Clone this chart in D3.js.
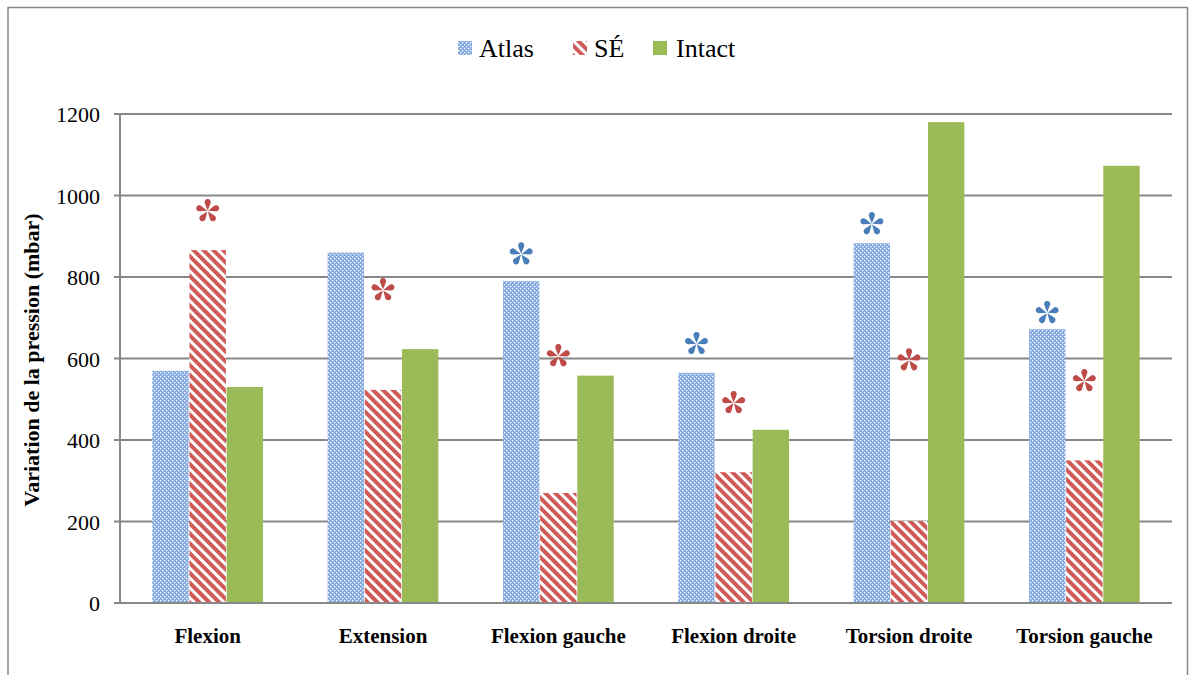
<!DOCTYPE html>
<html>
<head>
<meta charset="utf-8">
<script src="https://cdn.jsdelivr.net/npm/d3@7"></script>
<style>
  body { margin: 0; background: #fff; }
  svg { display: block; }
</style>
</head>
<body>
<svg id="chart" width="1189" height="675"></svg>
<script>
const categories = ['Flexion', 'Extension', 'Flexion gauche', 'Flexion droite', 'Torsion droite', 'Torsion gauche']
const seriesNames = ['Atlas', 'SÉ', 'Intact']
const atlas = [570, 860, 790, 565, 883, 672]
const se = [866, 523, 270, 321, 201, 350]
const intact = [530, 623, 558, 425, 1180, 1073]
const yTicks = [0, 200, 400, 600, 800, 1000, 1200]
// significance marks: [category index, series, value where the star sits]
const stars = [
  [0, 'SÉ', 962],
  [1, 'SÉ', 768],
  [2, 'Atlas', 856], [2, 'SÉ', 606],
  [3, 'Atlas', 636], [3, 'SÉ', 491],
  [4, 'Atlas', 930], [4, 'SÉ', 596],
  [5, 'Atlas', 712], [5, 'SÉ', 545]
]

const values = { 'Atlas': atlas, 'SÉ': se, 'Intact': intact }
const starColor = { 'Atlas': '#4a7ebb', 'SÉ': '#be4b48' }

const svg = d3.select('#chart')
const textLayer = svg.append('g').attr('class', 'labels')

const x0 = d3.scaleBand().domain(categories).range([120, 1172]).paddingInner(0.36).paddingOuter(0.18)
const x1 = d3.scaleBand().domain(seriesNames).range([0, x0.bandwidth()]).padding(0.02)
const y = d3.scaleLinear().domain([0, 1200]).range([603, 114])

// all text first, generic serif family
textLayer.selectAll('text.ytick')
  .data(yTicks)
  .join('text')
  .attr('class', 'ytick')
  .attr('x', 100)
  .attr('y', d => y(d) + 8)
  .attr('text-anchor', 'end')
  .style('font-family', 'serif')
  .style('font-size', '22px')
  .text(d => d)

textLayer.selectAll('text.cat')
  .data(categories)
  .join('text')
  .attr('class', 'cat')
  .attr('x', d => x0(d) + x0.bandwidth() / 2)
  .attr('y', 643)
  .attr('text-anchor', 'middle')
  .style('font-family', 'serif')
  .style('font-weight', 'bold')
  .style('font-size', '21px')
  .text(d => d)

textLayer.append('text')
  .attr('transform', 'translate(39,360) rotate(-90)')
  .attr('text-anchor', 'middle')
  .style('font-family', 'serif')
  .style('font-weight', 'bold')
  .style('font-size', '22px')
  .text('Variation de la pression (mbar)')

const legendItems = [
  { name: 'Atlas', sx: 458, tx: 479 },
  { name: 'SÉ', sx: 573, tx: 594 },
  { name: 'Intact', sx: 653, tx: 676 }
]
textLayer.selectAll('text.leg')
  .data(legendItems)
  .join('text')
  .attr('class', 'leg')
  .attr('x', d => d.tx).attr('y', 57)
  .style('font-family', 'serif')
  .style('font-size', '26px')
  .text(d => d.name)

// outer frame
svg.append('path')
  .attr('d', 'M8,680 L8,7.5 L1187.5,7.5 L1187.5,680')
  .attr('fill', 'none')
  .attr('stroke', '#888')
  .attr('stroke-width', 1.5)

const defs = svg.append('defs')
const checker = defs.append('pattern')
  .attr('id', 'pat-atlas')
  .attr('patternUnits', 'userSpaceOnUse')
  .attr('width', 4).attr('height', 4)
checker.append('rect').attr('width', 4).attr('height', 4).attr('fill', '#86abe0')
checker.append('rect').attr('x', 0).attr('y', 0).attr('width', 1.3).attr('height', 1.3).attr('fill', '#fff')
checker.append('rect').attr('x', 2).attr('y', 2).attr('width', 1.3).attr('height', 1.3).attr('fill', '#fff')

const stripes = defs.append('pattern')
  .attr('id', 'pat-se')
  .attr('patternUnits', 'userSpaceOnUse')
  .attr('width', 7).attr('height', 7)
  .attr('patternTransform', 'rotate(-45)')
stripes.append('rect').attr('width', 7).attr('height', 7).attr('fill', '#fff')
stripes.append('rect').attr('width', 4).attr('height', 7).attr('fill', '#cf5a57')

const fills = { 'Atlas': 'url(#pat-atlas)', 'SÉ': 'url(#pat-se)', 'Intact': '#9bbb59' }

// grid
svg.append('g')
  .selectAll('line')
  .data(yTicks.slice(1))
  .join('line')
  .attr('x1', 120).attr('x2', 1172)
  .attr('y1', d => y(d)).attr('y2', d => y(d))
  .attr('stroke', '#888').attr('stroke-width', 2)

// bars
const rows = []
categories.forEach((c, i) => {
  seriesNames.forEach(s => rows.push({ cat: c, series: s, value: values[s][i] }))
})
svg.append('g')
  .selectAll('rect')
  .data(rows)
  .join('rect')
  .attr('x', d => x0(d.cat) + x1(d.series))
  .attr('y', d => y(d.value))
  .attr('width', x1.bandwidth())
  .attr('height', d => y(0) - y(d.value))
  .attr('fill', d => fills[d.series])

// y axis line and ticks
const yAxis = svg.append('g')
yAxis.append('path')
  .attr('d', `M114,${y(0)}H120V${y(1200)}`)
  .attr('fill', 'none').attr('stroke', '#888').attr('stroke-width', 2)
yAxis.selectAll('line')
  .data(yTicks)
  .join('line')
  .attr('x1', 114).attr('x2', 120)
  .attr('y1', d => y(d)).attr('y2', d => y(d))
  .attr('stroke', '#888').attr('stroke-width', 2)

svg.append('line')
  .attr('x1', 120).attr('x2', 1172).attr('y1', y(0)).attr('y2', y(0))
  .attr('stroke', '#888').attr('stroke-width', 2)

// stars: five teardrop petals
const petals = d3.range(5).map(k => -90 + k * 72)
const starG = svg.append('g')
  .selectAll('g')
  .data(stars)
  .join('g')
  .attr('transform', d => `translate(${x0(categories[d[0]]) + x1(d[1]) + x1.bandwidth() / 2},${y(d[2])})`)
  .attr('fill', d => starColor[d[1]])
petals.forEach(a => {
  starG.append('path')
    .attr('d', 'M0,0 L7,-2.8 A3.1,3.1 0 1 1 7,2.8 Z')
    .attr('transform', `rotate(${a}) translate(0.5,0)`)
})

// legend swatches
svg.append('g')
  .selectAll('rect')
  .data(legendItems)
  .join('rect')
  .attr('x', d => d.sx).attr('y', 41)
  .attr('width', 14).attr('height', 14)
  .attr('fill', d => fills[d.name])
</script>
</body>
</html>
